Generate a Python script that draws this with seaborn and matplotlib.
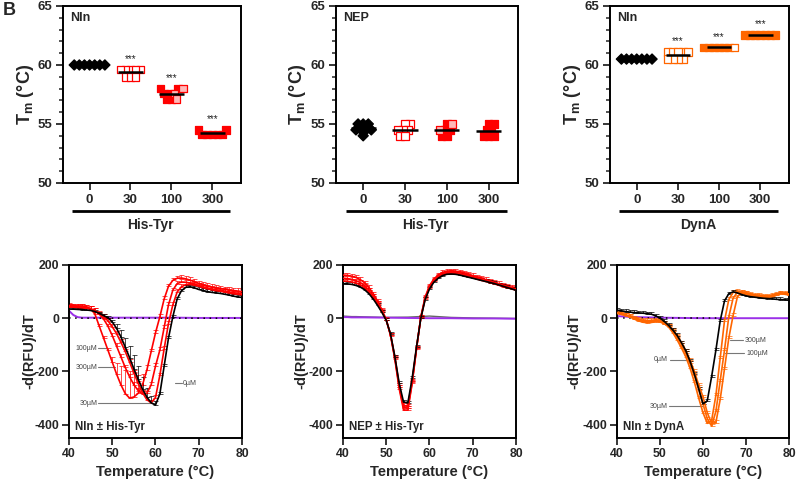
import numpy as np
import pandas as pd
import matplotlib
matplotlib.use('Agg')
import matplotlib.pyplot as plt
import matplotlib.transforms as mtransforms
from matplotlib.ticker import MultipleLocator
import seaborn as sns

sns.set_style('ticks')
plt.rcParams['font.family'] = ['Liberation Sans', 'DejaVu Sans']
plt.rcParams['font.weight'] = 'bold'
plt.rcParams['mathtext.fontset'] = 'custom'
plt.rcParams['mathtext.bf'] = 'Liberation Sans:bold'
plt.rcParams['mathtext.rm'] = 'Liberation Sans:bold'

RED = '#ff0000'
PINK = '#ffb8b8'
ORANGE = '#ff6600'
PURPLE = '#9b30e8'

# ---------------- top row data (Tm, degC) ----------------
conc_labels = ['0', '30', '100', '300']

nln_ht_0 = [60.0, 60.0, 60.0, 60.0, 60.0, 60.0, 60.0]
nln_ht_30 = [59.6, 59.6, 59.6, 59.6, 59.6, 59.0, 59.0, 59.0]
nln_ht_100_filled = [58.0, 58.0, 57.6, 57.6, 57.1, 57.1]
nln_ht_100_open = [58.0, 57.6, 57.1]
nln_ht_300 = [54.5, 54.5, 54.1, 54.1, 54.1, 54.1, 54.1]

nep_ht_0 = [55.0, 55.0, 55.0, 54.5, 54.5, 54.5, 54.5, 54.0]
nep_ht_30 = [55.0, 55.0, 54.5, 54.5, 54.5, 54.0, 54.0]
nep_ht_100_filled = [55.0, 54.5, 54.5, 54.0, 54.0]
nep_ht_100_open = [55.0, 54.5]
nep_ht_300 = [55.0, 55.0, 54.5, 54.5, 54.0, 54.0, 54.0]

nln_dyn_0 = [60.5, 60.5, 60.5, 60.5, 60.5, 60.5, 60.5]
nln_dyn_30 = [61.1, 61.1, 61.1, 61.1, 61.1, 60.5, 60.5, 60.5, 60.5]
nln_dyn_100_filled = [61.5, 61.5, 61.5, 61.5, 61.5, 61.5]
nln_dyn_100_open = [61.5]
nln_dyn_300 = [62.55, 62.55, 62.55, 62.55, 62.55, 62.55, 62.55]

# ---------------- bottom row data: -d(RFU)/dT at 40..80 degC ----------------
temps = np.arange(40, 81)

p1_0 = [35, 34, 33, 32, 31, 29, 25, 18, 10, 2,
        -14, -38, -70, -108, -148, -190, -230, -266, -296, -318,
        -326, -285, -180, -75, 5, 72, 103, 116, 118, 114,
        108, 104, 100, 97, 95, 93, 90, 87, 83, 80, 78]
p1_30 = [42, 41, 40, 39, 37, 34, 28, 18, 6, -10,
         -32, -58, -90, -125, -165, -205, -245, -280, -306, -318,
         -298, -215, -115, -20, 50, 98, 118, 126, 127, 124,
         120, 115, 111, 107, 104, 101, 98, 95, 92, 90, 88]
p1_100 = [45, 44, 43, 42, 40, 36, 28, 15, -3, -30,
          -65, -105, -145, -185, -220, -250, -272, -285, -282, -250,
          -180, -120, -35, 50, 105, 130, 136, 135, 132, 128,
          123, 118, 114, 110, 107, 105, 102, 99, 96, 94, 92]
p1_300 = [48, 47, 46, 45, 42, 36, 15, -30, -75, -120,
          -165, -210, -250, -283, -300, -296, -282, -250, -195, -125,
          -55, 5, 72, 120, 142, 150, 151, 148, 143, 137,
          131, 126, 121, 117, 114, 112, 109, 106, 104, 102, 100]
p1_err_0 = [6, 6, 6, 6, 6, 6, 6, 6, 6, 6,
            6, 15, 25, 35, 45, 50, 50, 45, 35, 25,
            15, 8, 8, 8, 8, 8, 8, 8, 8, 8,
            8, 8, 8, 8, 8, 8, 8, 8, 8, 8, 8]
p1_err_300 = [8, 8, 8, 8, 8, 8, 8, 8, 8, 8,
              20, 40, 70, 90, 100, 95, 70, 40, 20, 10,
              10, 10, 10, 10, 10, 10, 10, 10, 10, 10,
              10, 10, 10, 10, 10, 10, 10, 10, 10, 10, 10]

p2_0 = [130, 129, 127, 123, 117, 107, 92, 72, 48, 22,
        -8, -60, -145, -245, -315, -318, -225, -108, 0, 70,
        110, 135, 150, 160, 165, 166, 165, 162, 158, 154,
        150, 146, 142, 138, 134, 130, 125, 120, 115, 110, 105]
p2_30 = [162, 161, 158, 153, 145, 133, 115, 92, 64, 32,
         -5, -65, -155, -265, -345, -345, -245, -115, 5, 80,
         122, 147, 162, 172, 177, 178, 177, 174, 170, 165,
         160, 155, 150, 145, 140, 135, 130, 125, 120, 115, 110]
p2_100 = [150, 149, 146, 141, 134, 122, 105, 83, 57, 27,
          -7, -63, -150, -258, -335, -338, -240, -113, 3, 76,
          117, 142, 157, 166, 171, 172, 171, 168, 164, 160,
          155, 150, 145, 140, 136, 131, 126, 121, 117, 112, 108]
p2_300 = [140, 139, 136, 132, 125, 114, 98, 77, 52, 24,
          -7, -62, -147, -252, -328, -330, -235, -112, 2, 73,
          114, 138, 153, 162, 167, 168, 167, 164, 160, 156,
          152, 147, 142, 138, 134, 129, 124, 119, 115, 110, 106]

p3_0 = [30, 28, 25, 23, 21, 20, 19, 17, 15, 9,
        0, -12, -27, -45, -65, -92, -122, -162, -210, -265,
        -322, -310, -220, -120, -10, 65, 92, 99, 95, 89,
        84, 81, 79, 77, 75, 74, 73, 71, 70, 69, 68]
p3_30 = [20, 16, 12, 8, 2, -4, -8, -9, -8, -6,
         -10, -20, -33, -55, -82, -112, -145, -188, -240, -300,
         -355, -395, -385, -290, -150, -10, 70, 97, 100, 95,
         89, 85, 82, 80, 79, 79, 81, 86, 92, 90, 87]
p3_100 = [18, 14, 10, 5, -2, -8, -12, -14, -13, -10,
          -12, -20, -30, -48, -72, -100, -132, -170, -215, -268,
          -322, -378, -405, -350, -235, -120, 5, 75, 98, 99,
          93, 88, 84, 82, 81, 81, 83, 88, 93, 92, 89]
p3_300 = [22, 18, 13, 6, -3, -10, -15, -17, -16, -13,
          -14, -21, -30, -45, -66, -92, -122, -158, -200, -250,
          -295, -355, -395, -392, -305, -190, -75, 10, 80, 98,
          96, 91, 87, 85, 84, 84, 86, 90, 95, 94, 91]

# controls near zero
base_t = [40, 41, 42, 43, 45, 50, 55, 60, 65, 70, 75, 80]
p1_purple = [28, 12, 4, 2, 2, 2, 2, 2, 2, 1, 1, 1]
p1_ctrl = [1, 1, 0, 0, 0, 0, 0, 0, 0, 0, 0, 0]
p2_purple = [4, 4, 3, 3, 3, 2, 1, 0, 0, -1, -1, -2]
p2_ctrl = [8, 7, 6, 6, 5, 3, 4, 8, 3, 1, 0, -1]
p3_purple = [8, 7, 6, 5, 4, 2, 1, 0, 0, 0, 0, 0]
p3_ctrl_t = [40, 45, 50, 55, 60, 64]
p3_ctrl = [0, 0, 0, 0, 0, 0]

bottom_yticks = [-400, -200, 0, 200]
bottom_yticklabels = ['-400', '-200', '0', '200']

# ---------------- figure ----------------
fig = plt.figure(figsize=(7.96, 4.86), dpi=100)
top_pos = [[0.0791, 0.6235, 0.2236, 0.3642],
           [0.4221, 0.6235, 0.2286, 0.3642],
           [0.7663, 0.6235, 0.2249, 0.3642]]
bot_pos = [[0.0867, 0.0988, 0.2173, 0.3560],
           [0.4309, 0.0988, 0.2173, 0.3560],
           [0.7751, 0.0988, 0.2161, 0.3560]]
bot_ylabel_x = [-0.188, -0.198, -0.205]

SPINE_W = 1.4
LAYOUT_SIZE = 2.6
swarm_colls = []


def style_spines(ax):
    for s in ax.spines.values():
        s.set_visible(True)
        s.set_linewidth(SPINE_W)
        s.set_color('black')


def swarm(ax, cat, vals_filled, vals_open, marker, col, open_face, size, ewidth=0.9):
    conc = [cat] * (len(vals_filled) + len(vals_open))
    df = pd.DataFrame({'conc': conc,
                       'tm': list(vals_filled) + list(vals_open),
                       'fill': ['filled'] * len(vals_filled) + ['open'] * len(vals_open)})
    n0 = len(ax.collections)
    sns.swarmplot(data=df, x='conc', y='tm', hue='fill', order=conc_labels,
                  hue_order=['filled', 'open'],
                  palette={'filled': col, 'open': open_face},
                  marker=marker, edgecolor=col, linewidth=ewidth, size=LAYOUT_SIZE,
                  legend=False, ax=ax, warn_thresh=1, zorder=3)
    for c in ax.collections[n0:]:
        swarm_colls.append((c, size))
    allv = list(vals_filled) + list(vals_open)
    i = conc_labels.index(cat)
    ax.hlines(np.mean(allv), i - 0.3, i + 0.3, color='black', lw=1.8, zorder=5)
    return max(allv)


def top_panel(ax, groups, title, xlab, stars):
    ax.set_xlim(-0.65, 3.7)
    ax.set_ylim(50, 65)
    for g in groups:
        top = swarm(ax, *g)
        if stars and g[0] != '0':
            ax.text(conc_labels.index(g[0]), top + 0.9, '***', ha='center', va='center',
                    fontsize=7, fontweight='normal', color='#222222')
    ax.set_xlim(-0.65, 3.7)
    ax.set_ylim(50, 65)
    ax.set_yticks([50, 55, 60, 65])
    ax.yaxis.set_minor_locator(MultipleLocator(1))
    ax.set_xticks(range(4))
    ax.set_xticklabels(conc_labels)
    ax.tick_params(axis='both', which='major', direction='out', length=5, width=1.3,
                   labelsize=9.5, pad=3)
    ax.tick_params(axis='y', which='minor', direction='out', length=3, width=1.1)
    ax.set_xlabel('')
    ax.set_ylabel('T$_\\mathbf{m}$ (°C)', fontsize=13, fontweight='bold')
    ax.yaxis.set_label_coords(-0.152, 0.5)
    style_spines(ax)
    ax.text(0.04, 0.93, title, transform=ax.transAxes, fontsize=9, fontweight='bold',
            ha='left', va='center')
    tr = mtransforms.blended_transform_factory(ax.transData, ax.transAxes)
    ax.plot([-0.42, 3.44], [-0.158, -0.158], transform=tr, color='black', lw=2,
            clip_on=False, solid_capstyle='butt')
    ax.text(1.5, -0.235, xlab, transform=tr, ha='center', va='center', fontsize=10,
            fontweight='bold')


def curve(ax, vals, col, err, lw=1.2):
    sns.lineplot(x=temps, y=vals, color=col, lw=lw, ax=ax, zorder=3)
    e = np.asarray(err, dtype=float) * np.ones(len(vals))
    ax.errorbar(temps, vals, yerr=[np.zeros(len(vals)), e], fmt='none', ecolor=col,
                elinewidth=0.5, capsize=1.8, capthick=0.5, zorder=2)


def bottom_panel(ax, title, labels, ylab_x):
    ax.set_xlim(40, 80)
    ax.set_ylim(-450, 200)
    ax.set_xticks([40, 50, 60, 70, 80])
    ax.set_yticks(bottom_yticks)
    ax.set_yticklabels(bottom_yticklabels)
    ax.tick_params(axis='both', direction='out', length=5, width=1.3, labelsize=8.8, pad=2)
    ax.set_xlabel('Temperature (°C)', fontsize=10.5, fontweight='bold', labelpad=4)
    ax.set_ylabel('-d(RFU)/dT', fontsize=10.5, fontweight='bold')
    ax.yaxis.set_label_coords(ylab_x, 0.5)
    style_spines(ax)
    ax.text(41.3, -410, title, fontsize=8.3, fontweight='bold', ha='left', va='center')
    for txt, tx, ha, y, x0, x1 in labels:
        ax.text(tx, y, txt, fontsize=5, fontweight='normal', color='#444444',
                ha=ha, va='center')
        ax.plot([x0, x1], [y, y], color='#777777', lw=0.8)


# ---- top row ----
axes_top = [fig.add_axes(p) for p in top_pos]
top_panel(axes_top[0],
          [('0', nln_ht_0, [], 'D', 'black', 'white', 5.2),
           ('30', [], nln_ht_30, 's', RED, 'white', 5.4),
           ('100', nln_ht_100_filled, nln_ht_100_open, 's', RED, PINK, 5.4),
           ('300', nln_ht_300, [], 's', RED, 'white', 5.4)],
          'Nln', 'His-Tyr', True)
top_panel(axes_top[1],
          [('0', nep_ht_0, [], 'D', 'black', 'white', 5.2),
           ('30', [], nep_ht_30, 's', RED, 'white', 5.4),
           ('100', nep_ht_100_filled, nep_ht_100_open, 's', RED, PINK, 5.4),
           ('300', nep_ht_300, [], 's', RED, 'white', 5.4)],
          'NEP', 'His-Tyr', False)
top_panel(axes_top[2],
          [('0', nln_dyn_0, [], 'D', 'black', 'white', 5.2),
           ('30', [], nln_dyn_30, 's', ORANGE, 'white', 5.4),
           ('100', nln_dyn_100_filled, nln_dyn_100_open, 's', ORANGE, 'white', 5.4),
           ('300', nln_dyn_300, [], 's', ORANGE, 'white', 5.4)],
          'Nln', 'DynA', True)

# ---- bottom row ----
axes_bot = [fig.add_axes(p) for p in bot_pos]

ax = axes_bot[0]
sns.lineplot(x=base_t, y=p1_purple, color=PURPLE, lw=1.4, ax=ax, zorder=2)
sns.lineplot(x=base_t, y=p1_ctrl, color='black', lw=1.1, ax=ax, zorder=2, linestyle=(0, (1, 3)))
curve(ax, p1_300, RED, p1_err_300)
curve(ax, p1_100, RED, 10)
curve(ax, p1_30, RED, 10)
curve(ax, p1_0, 'black', p1_err_0)
bottom_panel(ax, 'Nln ± His-Tyr',
             [('100µM', 46.5, 'right', -112, 46.7, 48.8),
              ('300µM', 46.5, 'right', -184, 46.7, 50.6),
              ('30µM', 46.6, 'right', -319, 46.8, 59.9),
              ('0µM', 66.4, 'left', -244, 64.5, 66.2)], bot_ylabel_x[0])

ax = axes_bot[1]
sns.lineplot(x=base_t, y=p2_ctrl, color='#666666', lw=1.0, ax=ax, zorder=2)
sns.lineplot(x=base_t, y=p2_purple, color=PURPLE, lw=1.4, ax=ax, zorder=2)
curve(ax, p2_30, RED, 8)
curve(ax, p2_100, RED, 8)
curve(ax, p2_300, RED, 8)
curve(ax, p2_0, 'black', 8)
bottom_panel(ax, 'NEP ± His-Tyr', [], bot_ylabel_x[1])

ax = axes_bot[2]
sns.lineplot(x=base_t, y=p3_purple, color=PURPLE, lw=1.4, ax=ax, zorder=2)
sns.lineplot(x=p3_ctrl_t, y=p3_ctrl, color='black', lw=1.1, ax=ax, zorder=2, linestyle=(0, (1, 3)))
curve(ax, p3_300, ORANGE, 8)
curve(ax, p3_100, ORANGE, 8)
curve(ax, p3_30, ORANGE, 8)
curve(ax, p3_0, 'black', 8)
bottom_panel(ax, 'Nln ± DynA',
             [('0µM', 51.9, 'right', -157, 52.3, 56.3),
              ('30µM', 51.7, 'right', -330, 52.1, 60.0),
              ('300µM', 69.8, 'left', -83, 66.3, 69.3),
              ('100µM', 70.0, 'left', -132, 65.1, 69.5)], bot_ylabel_x[2])

fig.text(0.003, 0.995, 'B', fontsize=13, fontweight='bold', ha='left', va='top')

# Lay out the swarms on a vertically compressed scale (so neighbouring rows
# interact like the wide markers do), then freeze them and enlarge the markers.
for a in axes_top:
    a.set_ylim(47.5, 67.5)
fig.canvas.draw()
for c, s in swarm_colls:
    if 'draw' in c.__dict__:
        del c.draw
    c.set_sizes([s ** 2])
for a in axes_top:
    a.set_ylim(50, 65)

fig.savefig('out.png', dpi=100)
